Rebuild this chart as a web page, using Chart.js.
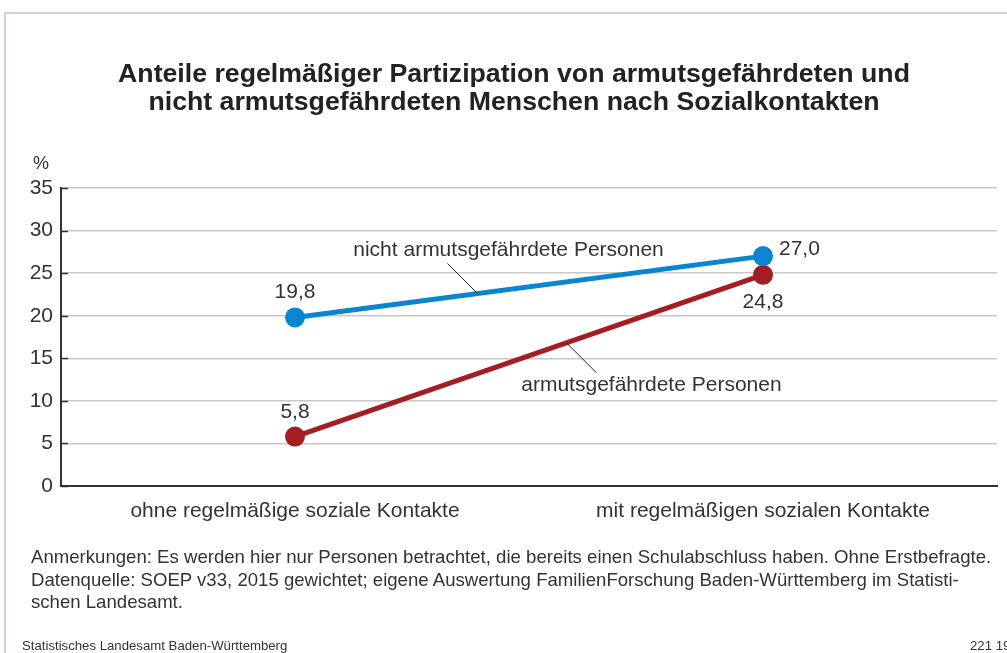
<!DOCTYPE html>
<html lang="de">
<head>
<meta charset="utf-8">
<script src="https://cdn.jsdelivr.net/npm/chart.js@4.4.1/dist/chart.umd.min.js"></script>
<style>
  html, body { margin: 0; padding: 0; background: #fff; }
  body { width: 1007px; height: 653px; position: relative; overflow: hidden;
         font-family: "Liberation Sans", Arial, sans-serif; color: #333; }
  #frame { position: absolute; left: 4px; top: 12px; right: -10px; bottom: -10px;
           border-left: 2px solid #ccd0e0; border-top: 2px solid #ccd0e0; }
  #title { position: absolute; left: 0; top: 59px; width: 1028px; text-align: center;
           font-weight: bold; font-size: 26.7px; line-height: 28px; color: #222; }
  #unit { position: absolute; left: 33px; top: 153px; font-size: 18px; }
  #chart { position: absolute; left: 0; top: 0; }
  .note { position: absolute; left: 31px; font-size: 18.6px; line-height: 22px; color: #333; white-space: nowrap; }
  #source { position: absolute; left: 22px; top: 638px; font-size: 13.2px; color: #333; }
  #num { position: absolute; left: 970px; top: 638px; font-size: 13.2px; color: #333; white-space: nowrap; }
</style>
</head>
<body>
<div id="frame"></div>
<canvas id="chart" width="1007" height="653"></canvas>
<div id="title">Anteile regelmäßiger Partizipation von armutsgefährdeten und<br>nicht armutsgefährdeten Menschen nach Sozialkontakten</div>
<div id="unit">%</div>
<div class="note" style="top:546px">Anmerkungen: Es werden hier nur Personen betrachtet, die bereits einen Schulabschluss haben. Ohne Erstbefragte.</div>
<div class="note" style="top:569px">Datenquelle: SOEP v33, 2015 gewichtet; eigene Auswertung FamilienForschung Baden-Württemberg im Statisti-<br>schen Landesamt.</div>
<div id="source">Statistisches Landesamt Baden-Württemberg</div>
<div id="num">221 19</div>
<script>
const categories = ["ohne regelmäßige soziale Kontakte", "mit regelmäßigen sozialen Kontakte"];
const nichtArmValues = [19.8, 27.0];
const armValues = [5.8, 24.8];
const yMin = 0;
const yMax = 35;
const yStep = 5;
const seriesNames = ["nicht armutsgefährdete Personen", "armutsgefährdete Personen"];

const BLUE = "#0a85cf";
const RED = "#a41d23";
const TEXT = "#333";
const FONT = '"Liberation Sans", Arial, sans-serif';

const fmt = (v) => v.toFixed(1).replace(".", ",");

// where each value label sits relative to its point
const labelPlace = [
  ["above", "right"],
  ["above", "below"],
];

// series annotations: fraction along the segment, leader offset, text offset
const annotations = [
  { t: 0.39, dx: -30, dy: -30, tx: 61, ty: -13 },
  { t: 0.58, dx: 30, dy: 30, tx: 55, ty: 12 },
];

const labelsPlugin = {
  id: "labels",
  afterDatasetsDraw(chart) {
    const ctx = chart.ctx;
    const y = chart.scales.y;
    const area = chart.chartArea;
    ctx.save();

    // short dark ticks on the inside of the y axis
    ctx.strokeStyle = "#333";
    ctx.lineWidth = 1.5;
    for (let v = yMin; v <= yMax; v += yStep) {
      const py = Math.round(y.getPixelForValue(v)) + 0.5;
      ctx.beginPath();
      ctx.moveTo(area.left, py);
      ctx.lineTo(area.left + 7, py);
      ctx.stroke();
    }

    ctx.font = "21px " + FONT;
    ctx.fillStyle = TEXT;
    chart.data.datasets.forEach((ds, di) => {
      const meta = chart.getDatasetMeta(di);
      meta.data.forEach((pt, i) => {
        const txt = fmt(ds.data[i]);
        const place = labelPlace[di][i];
        if (place === "above") {
          ctx.textAlign = "center";
          ctx.textBaseline = "alphabetic";
          ctx.fillText(txt, pt.x, pt.y - 19);
        } else if (place === "below") {
          ctx.textAlign = "center";
          ctx.textBaseline = "top";
          ctx.fillText(txt, pt.x, pt.y + 17);
        } else {
          ctx.textAlign = "left";
          ctx.textBaseline = "middle";
          ctx.fillText(txt, pt.x + 16, pt.y - 7);
        }
      });

      // annotation with leader line
      const a = annotations[di];
      const p0 = meta.data[0];
      const p1 = meta.data[1];
      const lx = p0.x + (p1.x - p0.x) * a.t;
      const ly = p0.y + (p1.y - p0.y) * a.t;
      ctx.strokeStyle = "#222";
      ctx.lineWidth = 1;
      ctx.beginPath();
      ctx.moveTo(lx, ly);
      ctx.lineTo(lx + a.dx, ly + a.dy);
      ctx.stroke();
      ctx.textAlign = "center";
      ctx.textBaseline = "middle";
      ctx.fillText(seriesNames[di], lx + a.dx + a.tx, ly + a.dy + a.ty);
    });
    ctx.restore();
  },
};

new Chart(document.getElementById("chart"), {
  type: "line",
  data: {
    labels: categories,
    datasets: [
      {
        label: seriesNames[0],
        data: nichtArmValues,
        borderColor: BLUE,
        backgroundColor: BLUE,
        borderWidth: 5,
        pointRadius: 10,
        pointBorderWidth: 0,
        pointBackgroundColor: BLUE,
      },
      {
        label: seriesNames[1],
        data: armValues,
        borderColor: RED,
        backgroundColor: RED,
        borderWidth: 5,
        pointRadius: 10,
        pointBorderWidth: 0,
        pointBackgroundColor: RED,
      },
    ],
  },
  options: {
    responsive: false,
    animation: false,
    devicePixelRatio: 1,
    layout: { padding: { top: 188, right: 8, left: 0, bottom: 0 } },
    plugins: {
      legend: { display: false },
      tooltip: { enabled: false },
      title: { display: false },
    },
    scales: {
      x: {
        offset: true,
        grid: { display: false, drawTicks: false },
        border: { display: true, color: "#333", width: 2 },
        ticks: { color: TEXT, font: { size: 21, family: FONT }, padding: 13 },
        afterFit: (s) => { s.height = 167; },
      },
      y: {
        min: yMin,
        max: yMax,
        grid: { color: "#c8c8c8", lineWidth: 1.5, drawTicks: false },
        border: { display: true, color: "#333", width: 2 },
        ticks: { stepSize: yStep, color: TEXT, font: { size: 21, family: FONT }, padding: 8 },
        afterFit: (s) => { s.width = 61; },
      },
    },
  },
  plugins: [labelsPlugin],
});
</script>
</body>
</html>
